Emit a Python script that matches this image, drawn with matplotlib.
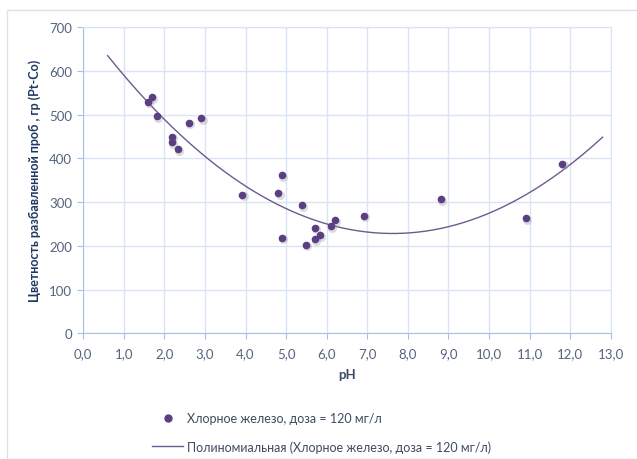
import numpy as np
import matplotlib.pyplot as plt
from matplotlib.patches import Rectangle
from matplotlib.lines import Line2D

# data
ph = [1.60, 1.70, 1.82, 2.19, 2.19, 2.33, 2.61, 2.91, 3.92, 4.81, 4.90, 4.90,
      5.39, 5.49, 5.70, 5.70, 5.83, 6.11, 6.21, 6.91, 8.81, 10.90, 11.81]
color_pt = [530, 540, 496, 450, 438, 421, 482, 493, 317, 320, 361, 219,
            294, 203, 242, 216, 225, 245, 259, 269, 307, 264, 388]
x_ticks = list(range(0, 14))
x_labels = ['%d,0' % v for v in x_ticks]
y_ticks = list(range(0, 701, 100))
series_name = 'Хлорное железо, доза = 120 мг/л'
trend_name = 'Полиномиальная (Хлорное железо, доза = 120 мг/л)'
trend_range = (0.6, 12.8)

plt.rcParams['font.family'] = ['Lato', 'DejaVu Sans']

W, H = 637, 460
fig = plt.figure(figsize=(W / 100, H / 100), dpi=100)
fig.patch.set_facecolor('white')
fig.patches.append(Rectangle((7 / W, 0), 1, 1 - 11 / H, transform=fig.transFigure,
                             fill=False, edgecolor='#d9e1ef', lw=1))

ax = fig.add_axes([83.3 / W, 1 - 334.3 / H, (610.7 - 83.3) / W, (334.3 - 28.3) / H])

grid_c = '#d9e5f5'
axis_c = '#a8c0e4'
text_c = '#56647e'
legend_c = '#3f4b60'
pt_c = '#5a3f83'
line_c = '#6e5a90'

x = np.array(ph)
y = np.array(color_pt)
coef = np.polyfit(x, y, 2)
xs = np.linspace(trend_range[0], trend_range[1], 200)
ax.plot(xs, np.polyval(coef, xs), color=line_c, lw=1.0, zorder=3)

# soft shadow under markers
ax.scatter(x + 0.03, y - 4, s=42, color='#9a9aa8', alpha=0.35, lw=0, zorder=3)
ax.scatter(x, y, s=30, color=pt_c, lw=0, zorder=4)

ax.set_xlim(0, 13)
ax.set_ylim(0, 700)
ax.set_xticks(x_ticks)
ax.set_xticklabels(x_labels)
ax.set_yticks(y_ticks)
ax.grid(True, color=grid_c, lw=1)
ax.set_axisbelow(True)
for s in ['top', 'right']:
    ax.spines[s].set_color(grid_c)
for s in ['left', 'bottom']:
    ax.spines[s].set_color(axis_c)
ax.tick_params(axis='x', colors=axis_c, labelcolor=text_c, labelsize=9.5, length=4, pad=6)
ax.tick_params(axis='y', colors=axis_c, labelcolor=text_c, labelsize=9.5, length=4, pad=4)

ax.set_xlabel('pH', fontsize=9.5, fontweight='bold', color='#3a4a66', labelpad=6)
ax.set_ylabel('Цветность разбавленной проб , гр (Pt-Co)', fontsize=9,
              fontweight='bold', color='#1f3864', labelpad=6)

handles = [Line2D([], [], ls='none', marker='o', ms=5, color=pt_c),
           Line2D([], [], color=line_c, lw=1.0)]
fig.legend(handles, [series_name, trend_name], loc='upper left',
           bbox_to_anchor=(152 / W, 1 - 413 / H), frameon=False, borderpad=0,
           fontsize=9, labelcolor=legend_c, handlelength=2.5, handletextpad=0.3,
           labelspacing=1.3, borderaxespad=0)

fig.savefig('out.png', dpi=100)
